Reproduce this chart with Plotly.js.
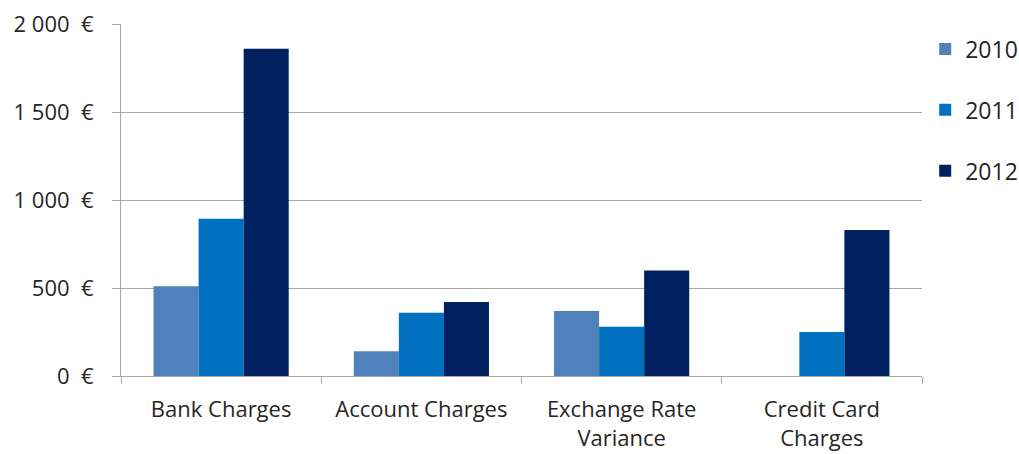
<!DOCTYPE html>
<html><head><meta charset="utf-8">
<script src="https://cdn.plot.ly/plotly-3.0.1.min.js"></script>
<style>html,body{margin:0;padding:0;background:#fff}#chart{width:1019px;height:454px}</style>
</head><body><div id="chart"></div>
<script>
const categories = ["Bank Charges", "Account Charges", "Exchange Rate<br>Variance", "Credit Card<br>Charges"];
const years = ["2010", "2011", "2012"];
const values2010 = [510, 140, 370, 0];
const values2011 = [893, 360, 280, 250];
const values2012 = [1860, 420, 600, 830];
const colors = ["#4F81BD", "#0070C0", "#002060"];
const yTickVals = [0, 500, 1000, 1500, 2000];
const yTickText = ["0\u00a0\u00a0€", "500\u00a0\u00a0€", "1\u00a0000\u00a0\u00a0€", "1\u00a0500\u00a0\u00a0€", "2\u00a0000\u00a0\u00a0€"];

const series = [values2010, values2011, values2012];
const traces = series.map((v, i) => ({
  type: "bar", x: categories, y: v, name: years[i], legendgroup: years[i],
  marker: {color: colors[i], line: {width: 0}}
}));
const fam = "'Open Sans', Lato, sans-serif";
const txt = "#262626";
const layout = {
  width: 1019, height: 454,
  margin: {l: 121, r: 97, t: 24, b: 78, autoexpand: false},
  paper_bgcolor: "#fff", plot_bgcolor: "#fff",
  font: {family: fam, size: 22, color: txt},
  barmode: "group", bargap: 0.325, bargroupgap: 0,
  showlegend: true,
  legend: {x: 1.004, xanchor: "left", y: 0.99, yanchor: "top", traceorder: "grouped",
           tracegroupgap: 28, font: {family: fam, size: 23, color: txt},
           itemwidth: 30},
  xaxis: {type: "category", showline: true, linecolor: "#A6A6A6", linewidth: 1,
          ticks: "outside", tickson: "boundaries", ticklen: 7, tickcolor: "#A6A6A6",
          tickfont: {family: fam, size: 22, color: txt}, showgrid: false,
          ticklabelstandoff: 14},
  yaxis: {range: [0, 2000], tickvals: yTickVals, ticktext: yTickText,
          showline: true, linecolor: "#A6A6A6", linewidth: 1,
          ticks: "outside", ticklen: 8, tickcolor: "#A6A6A6",
          showgrid: true, gridcolor: "#A6A6A6", gridwidth: 1, zeroline: false,
          tickfont: {family: fam, size: 22, color: txt}, ticklabelstandoff: 14}
};
Plotly.newPlot("chart", traces, layout, {displayModeBar: false, staticPlot: true});
</script></body></html>
